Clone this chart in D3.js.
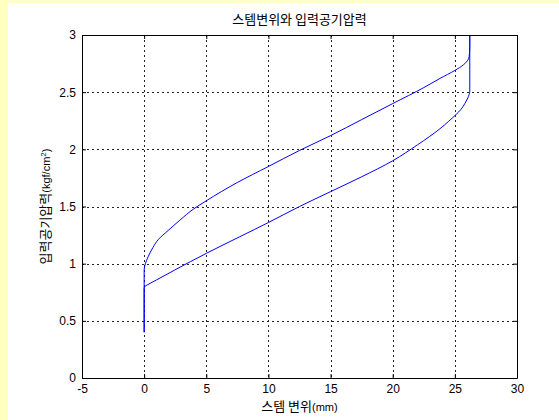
<!DOCTYPE html>
<html>
<head>
<meta charset="utf-8">
<script src="https://cdn.jsdelivr.net/npm/d3@7"></script>
<style>
  body { margin: 0; background: #fff; }
  text { font-family: "Liberation Sans", Arial, sans-serif; }
  .kr { font-family: "Noto Sans CJK KR", "Liberation Sans", sans-serif; }
</style>
</head>
<body>
<svg id="chart" width="559" height="420"></svg>
<script>
// loading branch (pressure rising)
const upX = [0, 0, 0.1, 0.32, 0.7, 1.13, 1.93, 2.87, 4, 5, 7.5, 10, 12.5, 15, 17.5, 20, 22.5, 23.8, 25, 25.7, 26.15, 26.2, 26.2]
const upY = [0.40, 0.945, 1.0, 1.06, 1.14, 1.21, 1.29, 1.38, 1.48, 1.55, 1.71, 1.85, 1.99, 2.12, 2.26, 2.40, 2.54, 2.62, 2.69, 2.74, 2.81, 2.9, 3.05]
// unloading branch (pressure falling)
const downX = [26.2, 26.2, 26.15, 26.0, 25.8, 25.5, 25.1, 24.5, 23.8, 22, 20, 17.5, 15, 12.5, 10, 7.7, 5, 2.47, 1, 0.3, 0.05, 0, 0]
const downY = [3.05, 2.51, 2.48, 2.44, 2.40, 2.35, 2.305, 2.245, 2.18, 2.04, 1.9, 1.76, 1.63, 1.5, 1.36, 1.236, 1.09, 0.945, 0.858, 0.817, 0.80, 0.78, 0.40]

const xTicks = [-5, 0, 5, 10, 15, 20, 25, 30]
const yTicks = [0, 0.5, 1, 1.5, 2, 2.5, 3]

const title = "스템변위와 입력공기압력"

const M = {top: 35, right: 42, bottom: 42, left: 82}
const W = 559, H = 420

let svg = d3.select("#chart")

// yellow slide background strips
svg.append("rect").attr("x", 0).attr("y", 0).attr("width", W).attr("height", 3).attr("fill", "#ffffcc")
svg.append("rect").attr("x", 0).attr("y", 0).attr("width", 8).attr("height", H).attr("fill", "#ffffbf")

let w = W - M.left - M.right
let h = H - M.top - M.bottom

let x = d3.scaleLinear().domain([-5, 30]).range([M.left, M.left + w])
let y = d3.scaleLinear().domain([0, 3]).range([M.top + h, M.top])

svg.append("rect")
    .attr("x", M.left).attr("y", M.top)
    .attr("width", w).attr("height", h)
    .attr("fill", "#fff")

// grid
let grid = svg.append("g").attr("stroke", "#222").attr("stroke-width", 1).attr("stroke-dasharray", "2,3")
grid.selectAll("line.gx")
    .data(xTicks.slice(1, -1))
    .join("line")
    .attr("x1", d => Math.round(x(d)) + 0.5).attr("x2", d => Math.round(x(d)) + 0.5)
    .attr("y1", M.top).attr("y2", M.top + h)
grid.selectAll("line.gy")
    .data(yTicks.slice(1, -1))
    .join("line")
    .attr("y1", d => Math.round(y(d)) + 0.5).attr("y2", d => Math.round(y(d)) + 0.5)
    .attr("x1", M.left).attr("x2", M.left + w)

// data line
svg.append("clipPath").attr("id", "clip")
    .append("rect").attr("x", M.left).attr("y", M.top).attr("width", w).attr("height", h)

// both branches are monotone in y, so this smooths without overshoot
let line = d3.line().x(d => x(d[0])).y(d => y(d[1])).curve(d3.curveMonotoneY)
let upPts = upX.map((v, i) => [v, upY[i]])
let downPts = downX.map((v, i) => [v, downY[i]])

svg.append("g").attr("clip-path", "url(#clip)")
    .selectAll("path")
    .data([upPts, downPts])
    .join("path")
    .attr("d", line)
    .attr("fill", "none")
    .attr("stroke", "#0000ff")
    .attr("stroke-width", 1)

// axes, ticks inward on all four sides
let fmt = d => String(d)
let xAxisB = d3.axisBottom(x).tickValues(xTicks).tickSizeInner(-4).tickSizeOuter(0).tickPadding(8).tickFormat(fmt)
let xAxisT = d3.axisTop(x).tickValues(xTicks).tickSizeInner(-4).tickSizeOuter(0).tickFormat("")
let yAxisL = d3.axisLeft(y).tickValues(yTicks).tickSizeInner(-4).tickSizeOuter(0).tickPadding(6).tickFormat(fmt)
let yAxisR = d3.axisRight(y).tickValues(yTicks).tickSizeInner(-4).tickSizeOuter(0).tickFormat("")

let gb = svg.append("g").attr("transform", `translate(0,${M.top + h})`).call(xAxisB)
let gt = svg.append("g").attr("transform", `translate(0,${M.top})`).call(xAxisT)
let gl = svg.append("g").attr("transform", `translate(${M.left},0)`).call(yAxisL)
let gr = svg.append("g").attr("transform", `translate(${M.left + w},0)`).call(yAxisR)

for (let g of [gb, gt, gl, gr]) {
    g.select(".domain").attr("stroke", "#000")
    g.selectAll(".tick line").attr("stroke", "#000")
    g.selectAll("text").attr("font-family", "'Liberation Sans', Arial, sans-serif")
        .attr("font-size", 12).attr("fill", "#000")
}
gb.selectAll(".tick text").attr("dy", "0.55em")

// title
svg.append("text")
    .attr("class", "kr")
    .attr("x", M.left + w / 2).attr("y", 24)
    .attr("text-anchor", "middle")
    .attr("font-size", 13)
    .text(title)

// x label
let xl = svg.append("text")
    .attr("x", M.left + w / 2).attr("y", 411)
    .attr("text-anchor", "middle")
xl.append("tspan").attr("class", "kr").attr("font-size", 13).text("스템 변위")
xl.append("tspan").attr("font-size", 11).text("(mm)")

// y label
let yl = svg.append("text")
    .attr("transform", `translate(50,${M.top + h / 2}) rotate(-90)`)
    .attr("text-anchor", "middle")
yl.append("tspan").attr("class", "kr").attr("font-size", 13).text("입력공기압력")
yl.append("tspan").attr("font-size", 11).text("(kgf/cm")
yl.append("tspan").attr("font-size", 8).attr("dy", "-0.5em").text("2")
yl.append("tspan").attr("font-size", 11).attr("dy", "0.35em").text(")")
</script>
</body>
</html>
